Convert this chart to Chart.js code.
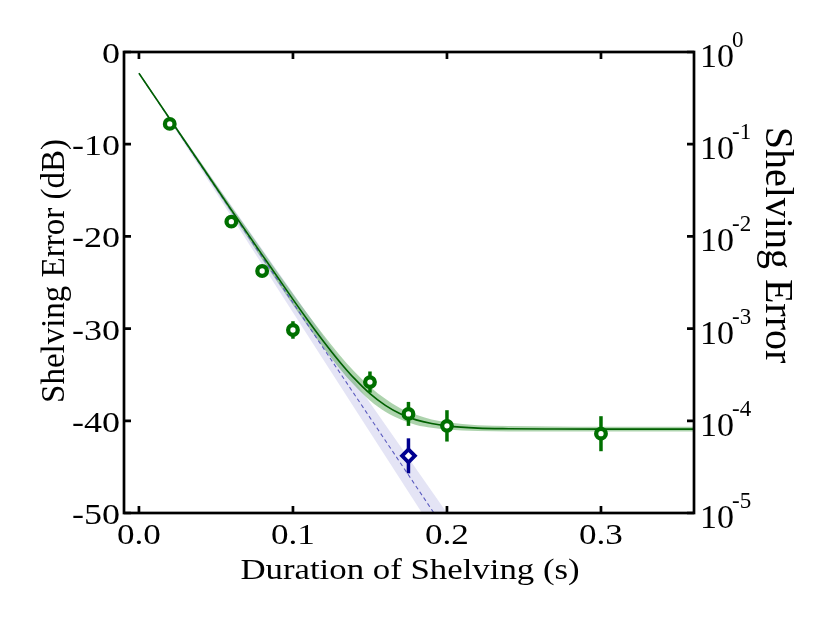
<!DOCTYPE html>
<html>
<head>
<meta charset="utf-8">
<script src="https://cdn.jsdelivr.net/npm/chart.js@4.4.1/dist/chart.umd.min.js"></script>
<style>
  html, body { margin: 0; padding: 0; background: #fff; }
</style>
</head>
<body>
<canvas id="shelvingChart" width="830" height="623"></canvas>
<script>
// measured shelving error (green circles)
const durations = [0.02, 0.06, 0.08, 0.10, 0.15, 0.175, 0.20, 0.30];
const errorDb = [-7.8, -18.4, -23.75, -30.15, -35.8, -39.25, -40.55, -41.4];
const errorDbUnc = [0.3, 0.3, 0.3, 0.95, 1.15, 1.3, 1.7, 1.9];

// blue diamond point
const blueDuration = [0.175];
const blueDb = [-43.8];
const blueUnc = [1.9];

// green fit curve and its band
const fitX = [0, 0.02, 0.04, 0.06, 0.08, 0.10, 0.11, 0.12, 0.13, 0.14, 0.15, 0.16, 0.17, 0.18, 0.19, 0.20, 0.22, 0.24, 0.27, 0.30, 0.33, 0.36];
const fitDb = [-2.3, -7.24, -12.18, -17.12, -22.0, -26.83, -29.17, -31.42, -33.53, -35.43, -37.05, -38.32, -39.26, -39.9, -40.3, -40.55, -40.79, -40.86, -40.89, -40.9, -40.9, -40.9];
const fitUpper = [-2.3, -7.14, -11.93, -16.77, -21.5, -26.23, -28.52, -30.72, -32.8, -34.68, -36.3, -37.62, -38.66, -39.35, -39.85, -40.15, -40.47, -40.56, -40.62, -40.65, -40.65, -40.65];
const fitLower = [-2.3, -7.34, -12.43, -17.47, -22.5, -27.43, -29.82, -32.12, -34.26, -36.18, -37.8, -39.02, -39.86, -40.45, -40.75, -40.95, -41.11, -41.16, -41.16, -41.15, -41.15, -41.15];

// blue dashed line (no floor) and its band
const expX = [0, 0.05, 0.10, 0.15, 0.20];
const expDb = [-2.3, -14.75, -27.2, -39.65, -52.1];
const expUpper = [-2.3, -14.25, -26.15, -38.05, -50.0];
const expLower = [-2.3, -15.25, -28.25, -41.25, -54.2];

// ticks
const xTicks = [0, 0.1, 0.2, 0.3];
const xTickLabels = ['0.0', '0.1', '0.2', '0.3'];
const dbTicks = [0, -10, -20, -30, -40, -50];
const dbTickLabels = ['0', '-10', '-20', '-30', '-40', '-50'];
const logTicks = [1, 1e-1, 1e-2, 1e-3, 1e-4, 1e-5];
const logTickExp = ['0', '-1', '-2', '-3', '-4', '-5'];

const GREEN = '#007000';
const NAVY = '#000090';
const SERIF = '"Liberation Serif", "Times New Roman", serif';

const pts = (xs, ys) => xs.map((x, i) => ({ x: x, y: ys[i] }));

function stretchText(c, text, x, y, size, align, sx) {
  c.save();
  c.font = size + 'px ' + SERIF;
  c.textAlign = align;
  c.textBaseline = 'alphabetic';
  c.translate(x, y);
  c.scale(sx, 1);
  c.fillText(text, 0, 0);
  c.restore();
}

// error bars, drawn just under the markers
const errorBars = {
  id: 'errorBars',
  beforeDatasetDraw(chart, args) {
    const ds = chart.data.datasets[args.index];
    if (!ds.unc) return;
    const c = chart.ctx, xs = chart.scales.x, ys = chart.scales.y;
    c.save();
    c.strokeStyle = ds.borderColor;
    c.lineWidth = 3.5;
    ds.data.forEach((p, i) => {
      const px = xs.getPixelForValue(p.x);
      c.beginPath();
      c.moveTo(px, ys.getPixelForValue(p.y + ds.unc[i]));
      c.lineTo(px, ys.getPixelForValue(p.y - ds.unc[i]));
      c.stroke();
    });
    c.restore();
  }
};

// frame, inward ticks and all axis texts
const frame = {
  id: 'frame',
  afterDraw(chart) {
    const c = chart.ctx, a = chart.chartArea;
    const xs = chart.scales.x, ys = chart.scales.y, yl = chart.scales.yLog;
    const t = 7;
    c.save();
    c.strokeStyle = '#000';
    c.lineWidth = 2.7;
    c.strokeRect(a.left, a.top, a.right - a.left, a.bottom - a.top);
    c.beginPath();
    xTicks.forEach(v => {
      const px = xs.getPixelForValue(v);
      c.moveTo(px, a.bottom); c.lineTo(px, a.bottom - t);
      c.moveTo(px, a.top); c.lineTo(px, a.top + t);
    });
    dbTicks.forEach(v => {
      const py = ys.getPixelForValue(v);
      c.moveTo(a.left, py); c.lineTo(a.left + t, py);
    });
    logTicks.forEach(v => {
      const py = yl.getPixelForValue(v);
      c.moveTo(a.right, py); c.lineTo(a.right - t, py);
    });
    c.stroke();

    c.fillStyle = '#000';
    xTicks.forEach((v, i) => {
      stretchText(c, xTickLabels[i], xs.getPixelForValue(v), a.bottom + 31, 30, 'center', 1.17);
    });
    dbTicks.forEach((v, i) => {
      stretchText(c, dbTickLabels[i], a.left - 4, ys.getPixelForValue(v) + 11, 30, 'right', 1.2);
    });
    logTicks.forEach((v, i) => {
      const py = yl.getPixelForValue(v);
      c.font = '34px ' + SERIF;
      c.textAlign = 'left';
      c.fillText('10', a.right + 6, py + 15);
      const w = c.measureText('10').width;
      c.font = '23px ' + SERIF;
      c.fillText(logTickExp[i], a.right + 4 + w, py - 5);
    });

    stretchText(c, 'Duration of Shelving (s)', (a.left + a.right) / 2 + 1, a.bottom + 66, 29, 'center', 1.2);

    c.font = '33px ' + SERIF;
    c.textAlign = 'center';
    c.save();
    c.translate(64, 271);
    c.rotate(-Math.PI / 2);
    c.fillText('Shelving Error (dB)', 0, 0);
    c.restore();

    c.font = '40px ' + SERIF;
    c.save();
    c.translate(766, 245);
    c.rotate(Math.PI / 2);
    c.fillText('Shelving Error', 0, 0);
    c.restore();
    c.restore();
  }
};

function buildChart() {
  const ctx = document.getElementById('shelvingChart').getContext('2d');
  new Chart(ctx, {
    type: 'line',
    data: {
      datasets: [
        {
          label: 'exp band upper', data: pts(expX, expUpper), order: 9,
          borderWidth: 0, pointRadius: 0, fill: '+1', backgroundColor: 'rgba(130,130,210,0.22)'
        },
        {
          label: 'exp band lower', data: pts(expX, expLower), order: 9,
          borderWidth: 0, pointRadius: 0, fill: false
        },
        {
          label: 'fit band upper', data: pts(fitX, fitUpper), order: 8,
          borderWidth: 0, pointRadius: 0, fill: '+1', backgroundColor: 'rgba(40,140,40,0.38)', cubicInterpolationMode: 'monotone'
        },
        {
          label: 'fit band lower', data: pts(fitX, fitLower), order: 8,
          borderWidth: 0, pointRadius: 0, fill: false, cubicInterpolationMode: 'monotone'
        },
        {
          label: 'exponential', data: pts(expX, expDb), order: 5,
          borderColor: '#5a5abf', borderWidth: 1.1, borderDash: [4, 3], pointRadius: 0, fill: false
        },
        {
          label: 'fit', data: pts(fitX, fitDb), order: 4,
          borderColor: '#006000', borderWidth: 1.6, pointRadius: 0, fill: false, cubicInterpolationMode: 'monotone'
        },
        {
          label: 'measured', data: pts(durations, errorDb), unc: errorDbUnc, order: 2,
          showLine: false, pointStyle: 'circle', pointRadius: 4.8, pointBorderWidth: 4.3,
          borderColor: GREEN, pointBorderColor: GREEN, pointBackgroundColor: '#fff'
        },
        {
          label: 'blue', data: pts(blueDuration, blueDb), unc: blueUnc, order: 1,
          showLine: false, pointStyle: 'rectRot', pointRadius: 6.4, pointBorderWidth: 3.8,
          borderColor: NAVY, pointBorderColor: NAVY, pointBackgroundColor: '#fff'
        }
      ]
    },
    options: {
      responsive: false,
      animation: false,
      layout: { padding: { top: 52, left: 0, right: 0, bottom: 0 } },
      plugins: { legend: { display: false }, tooltip: { enabled: false } },
      scales: {
        x: {
          type: 'linear', min: -0.0097, max: 0.3604, position: 'bottom',
          grid: { display: false }, border: { display: false }, ticks: { display: false },
          afterFit: s => { s.height = 110; }
        },
        y: {
          type: 'linear', min: -50, max: 0, position: 'left',
          grid: { display: false }, border: { display: false }, ticks: { display: false },
          afterFit: s => { s.width = 124; }
        },
        yLog: {
          type: 'logarithmic', min: 1e-5, max: 1, position: 'right',
          grid: { display: false }, border: { display: false }, ticks: { display: false },
          afterFit: s => { s.width = 136; }
        }
      }
    },
    plugins: [errorBars, frame]
  });
}

buildChart();
</script>
</body>
</html>
